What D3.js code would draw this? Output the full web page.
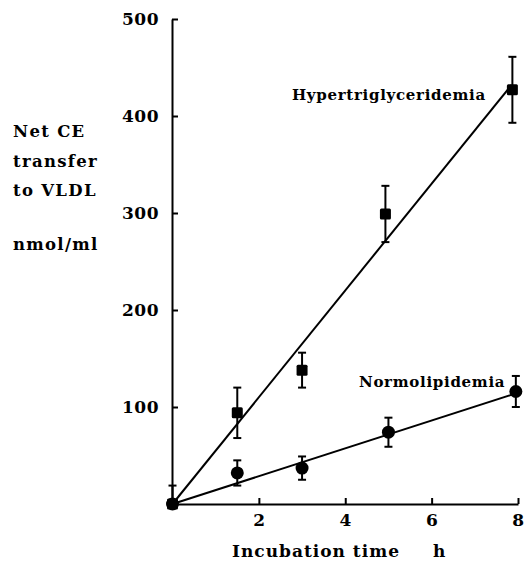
<!DOCTYPE html>
<html><head><meta charset="utf-8">
<script src="https://cdn.jsdelivr.net/npm/d3@7"></script>
<style>
body{margin:0;background:#fff;}
text{font-family:"DejaVu Serif",serif;font-weight:bold;fill:#000;}
</style></head>
<body><svg id="c" width="525" height="562"></svg>
<script>
// Data
const xTicks = [2,4,6,8];
const yTicks = [100,200,300,400,500];
const hyperX = [0, 1.5, 3, 4.93, 7.87];
const hyperY = [0, 94, 138, 299, 427];
const hyperErr = [19, 26, 18, 29, 34];
const normX = [0, 1.5, 3, 5, 7.95];
const normY = [0, 32, 37, 74, 116];
const normErr = [0, 13, 12, 15, 16];
const hyperFit = [[0,0],[7.85,432]];
const normFit = [[0,0],[7.95,114]];
const yLabelLines = ["Net CE","transfer","to VLDL","nmol/ml"];

const svg = d3.select("#c");
const x = d3.scaleLinear().domain([0,8]).range([172.5,518]);
const y = d3.scaleLinear().domain([0,500]).range([504,19]);

// axes
const gx = svg.append("g").attr("transform","translate(0,504)")
  .call(d3.axisBottom(x).tickValues(xTicks).tickFormat(d3.format("d")).tickSizeInner(-6).tickSizeOuter(0).tickPadding(10));
const gy = svg.append("g").attr("transform","translate(172,0)")
  .call(d3.axisLeft(y).tickValues(yTicks).tickFormat(d3.format("d")).tickSizeInner(-6).tickSizeOuter(0).tickPadding(13));
[gx,gy].forEach(g=>{
  g.selectAll("path,line").attr("stroke","#000").attr("stroke-width",2);
  g.selectAll("text").style("font-family","DejaVu Serif").style("font-weight","bold").style("font-size","17px").style("letter-spacing","0.5px").attr("fill","#000");
});

// fit lines
const line = d3.line().x(d=>x(d[0])).y(d=>y(d[1]));
[hyperFit,normFit].forEach(f=>svg.append("path").attr("d",line(f)).attr("fill","none").attr("stroke","#000").attr("stroke-width",2));

// error bars
function errBars(xs,ys,es){
  xs.forEach((xv,i)=>{
    if(!es[i]) return;
    const cx=x(xv), t=y(ys[i]+es[i]), b=y(Math.max(0,ys[i]-es[i]));
    svg.append("line").attr("x1",cx).attr("x2",cx).attr("y1",t).attr("y2",b).attr("stroke","#000").attr("stroke-width",2);
    svg.append("line").attr("x1",cx-4).attr("x2",cx+4).attr("y1",t).attr("y2",t).attr("stroke","#000").attr("stroke-width",2);
    if(ys[i]-es[i]>0) svg.append("line").attr("x1",cx-4).attr("x2",cx+4).attr("y1",b).attr("y2",b).attr("stroke","#000").attr("stroke-width",2);
  });
}
errBars(hyperX,hyperY,hyperErr);
errBars(normX,normY,normErr);

// markers
svg.selectAll(".sq").data(hyperX.map((d,i)=>[d,hyperY[i]])).enter().append("rect")
  .attr("x",d=>x(d[0])-5.5).attr("y",d=>y(d[1])-5.5).attr("width",11).attr("height",11).attr("rx",1.5).attr("fill","#000");
svg.selectAll(".ci").data(normX.map((d,i)=>[d,normY[i]])).enter().append("circle")
  .attr("cx",d=>x(d[0])).attr("cy",d=>y(d[1])).attr("r",6.5).attr("fill","#000");

// labels
svg.append("text").attr("x",292).attr("y",100).style("font-size","15px").style("letter-spacing","0.7px").text("Hypertriglyceridemia");
svg.append("text").attr("x",359).attr("y",387).style("font-size","15px").style("letter-spacing","0.7px").text("Normolipidemia");
svg.append("text").attr("x",232).attr("y",557).style("font-size","17px").style("letter-spacing","1px").text("Incubation time");
svg.append("text").attr("x",433).attr("y",557).style("font-size","17px").text("h");
const ylBase = [137,167,196,250];
yLabelLines.forEach((t,i)=>{
  svg.append("text").attr("x",13).attr("y",ylBase[i]).style("font-size","16.5px").style("letter-spacing","1.3px").text(t);
});
</script></body></html>
